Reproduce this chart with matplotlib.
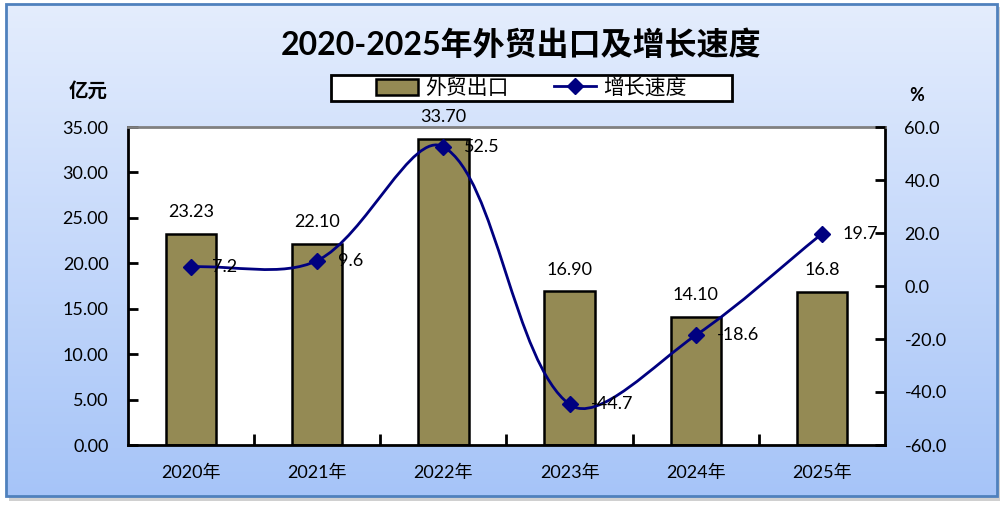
import numpy as np
import matplotlib
matplotlib.use("Agg")
import matplotlib.pyplot as plt
from matplotlib.path import Path
from matplotlib.patches import PathPatch, Rectangle, Patch
from matplotlib.lines import Line2D
from matplotlib.ticker import FormatStrFormatter, FixedLocator

plt.rcParams['font.family'] = ['Lato', 'Noto Sans CJK SC', 'DejaVu Sans']
plt.rcParams['axes.unicode_minus'] = False

# data
years = ['2020年', '2021年', '2022年', '2023年', '2024年', '2025年']
exports = [23.23, 22.10, 33.70, 16.90, 14.10, 16.8]
export_labels = ['23.23', '22.10', '33.70', '16.90', '14.10', '16.8']
growth = [7.2, 9.6, 52.5, -44.7, -18.6, 19.7]

W, H = 1004, 507
fig = plt.figure(figsize=(W / 100, H / 100), dpi=100)

# background panel with gradient, border and shadow
bg = fig.add_axes([0, 0, 1, 1], zorder=-5)
bg.axis('off')
bg.add_patch(Rectangle((9, 7), 991, 494, facecolor='#d0d0d0', edgecolor='none', zorder=0))
grad = np.linspace(0, 1, 256)[:, None]
top = np.array([0.894, 0.929, 0.992])
bot = np.array([0.651, 0.769, 0.973])
img = top + (bot - top) * grad[..., None]
bg.imshow(img, extent=(6, 997, 496, 4), aspect='auto', interpolation='bilinear', zorder=1)
bg.add_patch(Rectangle((6, 4), 991, 492, facecolor='none', edgecolor='#4f81bd', lw=2, zorder=2))
# legend box
bg.add_patch(Rectangle((331, 75), 401, 26, facecolor='white', edgecolor='black', lw=2, zorder=3))
bg.set_xlim(0, W)
bg.set_ylim(H, 0)

# main axes
L, R, T, B = 128, 885, 127, 445
ax = fig.add_axes([L / W, (H - B) / H, (R - L) / W, (B - T) / H])
ax.set_facecolor('white')
x = np.arange(len(years))
ax.bar(x, exports, width=0.4, color='#948a54', edgecolor='black', linewidth=1.8, zorder=2)
ax.set_xlim(-0.5, len(years) - 0.5)
ax.set_ylim(0, 35)
ax.set_yticks(np.arange(0, 35.01, 5))
ax.yaxis.set_major_formatter(FormatStrFormatter('%.2f'))
ax.set_xticks(x)
ax.set_xticklabels(years)
ax.xaxis.set_minor_locator(FixedLocator(x[:-1] + 0.5))
ax.tick_params(axis='x', which='major', length=0, pad=14, labelsize=13)
ax.tick_params(axis='x', which='minor', direction='in', length=8, width=2)
ax.tick_params(axis='y', direction='in', length=7, width=2, pad=14, labelsize=13)
for s in ['left', 'bottom', 'right']:
    ax.spines[s].set_linewidth(2)
    ax.spines[s].set_color('black')
ax.spines['top'].set_color('#808080')
ax.spines['top'].set_linewidth(2)

for xi, v, lab in zip(x, exports, export_labels):
    ax.annotate(lab, (xi, v), xytext=(0, 10), textcoords='offset points',
                ha='center', va='bottom', fontsize=13)

# secondary axis
ax2 = ax.twinx()
ax2.set_ylim(-60, 60)
ax2.set_yticks(np.arange(-60, 60.01, 20))
ax2.yaxis.set_major_formatter(FormatStrFormatter('%.1f'))
ax2.tick_params(axis='y', direction='in', length=7, width=2, pad=14, labelsize=13)
for s in ax2.spines.values():
    s.set_visible(False)

# smooth line through growth points, chord-weighted bezier in screen space
pts = np.column_stack([x, growth]).astype(float)
pix = ax2.transData.transform(pts)
n = len(pix)
c_in = pix.copy()
c_out = pix.copy()
for i in range(n):
    prv = pix[max(i - 1, 0)]
    nxt = pix[min(i + 1, n - 1)]
    d_prev = np.linalg.norm(pix[i] - prv)
    d_next = np.linalg.norm(nxt - pix[i])
    tang = nxt - prv
    tot = d_prev + d_next
    if tot == 0:
        continue
    c_out[i] = pix[i] + tang * (d_next / tot) / 3
    c_in[i] = pix[i] - tang * (d_prev / tot) / 3
verts = [pix[0]]
codes = [Path.MOVETO]
for i in range(n - 1):
    verts += [c_out[i], c_in[i + 1], pix[i + 1]]
    codes += [Path.CURVE4] * 3
verts = ax2.transData.inverted().transform(np.array(verts))
ax2.add_patch(PathPatch(Path(verts, codes), fill=False, edgecolor='#000080',
                        lw=2, zorder=3, transform=ax2.transData))
ax2.plot(x, growth, linestyle='none', marker='D', markersize=8,
         color='#000080', zorder=4)
for xi, g in zip(x, growth):
    ax2.annotate(f'{g:.1f}', (xi, g), xytext=(15, 0), textcoords='offset points',
                 ha='left', va='center', fontsize=13)

# title, units, legend
fig.text(521 / W, 1 - 45 / H, '2020-2025年外贸出口及增长速度', ha='center', va='center',
         fontsize=23, fontweight='bold')
fig.text(88 / W, 1 - 90 / H, '亿元', ha='center', va='center', fontsize=14, fontweight='bold')
fig.text(917 / W, 1 - 95 / H, '%', ha='center', va='center', fontsize=13, fontweight='bold')

handles = [Patch(facecolor='#948a54', edgecolor='black', linewidth=1.8),
           Line2D([], [], color='#000080', lw=2, marker='D', markersize=8)]
leg = fig.legend(handles, ['外贸出口', '增长速度'], ncol=2, loc='center',
                 bbox_to_anchor=(531.5 / W, 1 - 88 / H), fontsize=15, frameon=False,
                 borderpad=0, handlelength=2.0, handleheight=0.8,
                 handletextpad=0.35, columnspacing=2.2, borderaxespad=0)

fig.savefig('out.png', dpi=100)
